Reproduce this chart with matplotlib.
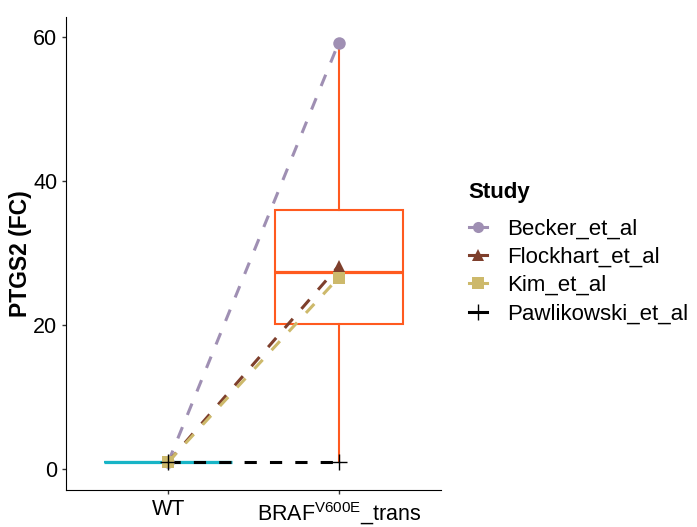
import numpy as np
import matplotlib
matplotlib.use('Agg')
from matplotlib import pyplot as plt
from matplotlib.lines import Line2D
from matplotlib import transforms

plt.rcParams['font.family'] = ['Liberation Sans', 'DejaVu Sans']
plt.rcParams['mathtext.fontset'] = 'custom'
plt.rcParams['mathtext.rm'] = 'Liberation Sans'
plt.rcParams['mathtext.it'] = 'Liberation Sans'

groups = ['WT', r'BRAF$^{\mathrm{V600E}}$_trans']
studies = ['Becker_et_al', 'Flockhart_et_al', 'Kim_et_al', 'Pawlikowski_et_al']
wt_values = [1.0, 1.0, 1.0, 1.0]
braf_values = [59.2, 28.2, 26.6, 1.0]
colors = ['#9F8FB3', '#7E3F2C', '#CDB96B', '#000000']
markers = ['o', '^', 's', '+']

fig = plt.figure(figsize=(6.97, 5.27), dpi=100)
ax = fig.add_axes([0.0947, 0.0702, 0.538, 0.898])

# boxplots
box_colors = ['#17B4C6', '#FF5A1F']
for i, vals in enumerate([wt_values, braf_values]):
    bp = ax.boxplot(vals, positions=[i + 1], widths=0.75, whis=1.5,
                    patch_artist=True, showfliers=False, manage_ticks=False)
    c = box_colors[i]
    for b in bp['boxes']:
        b.set(facecolor='white', edgecolor=c, linewidth=1.5)
    for l in bp['whiskers']:
        l.set(color=c, linewidth=1.5)
    for l in bp['caps']:
        l.set_visible(False)
    for l in bp['medians']:
        l.set(color=c, linewidth=2.3)

# per-study lines
dash = (0, (4, 4.3))
for s, w, b, c, m in zip(studies, wt_values, braf_values, colors, markers):
    ax.plot([1, 2], [w, b], color=c, linestyle=dash, linewidth=2.2,
            dash_capstyle='butt', zorder=3)
    ax.plot([1, 2], [w, b], color=c, linestyle='none', marker=m,
            markersize=9 if m != '+' else 12, markeredgewidth=0 if m != '+' else 1,
            zorder=4)

ax.set_xlim(0.4, 2.6)
ax.set_ylim(-2.9, 62.8)
ax.set_xticks([1, 2])
ax.set_xticklabels(groups, fontsize=15.5)
ax.set_yticks([0, 20, 40, 60])
ax.tick_params(axis='both', length=2.8, width=1, colors='#333333', labelcolor='black')
ax.tick_params(axis='y', labelsize=15.5)
ax.set_ylabel('PTGS2 (FC)', fontsize=16.5, fontweight='bold', labelpad=1)
for sp in ['top', 'right']:
    ax.spines[sp].set_visible(False)

# push the superscripted label down a bit
lab = ax.get_xticklabels()[1]
lab.set_transform(lab.get_transform() +
                  transforms.ScaledTranslation(0, -1.5 / 72, fig.dpi_scale_trans))

handles = [Line2D([], [], color=c, marker=m, linestyle='-', linewidth=2.2,
                  markersize=8 if m != '+' else 12, markeredgewidth=0 if m != '+' else 1)
           for c, m in zip(colors, markers)]
leg = fig.legend(handles, studies, title='Study', loc='upper left',
                 bbox_to_anchor=(0.65, 0.684), frameon=False, fontsize=16,
                 title_fontproperties={'weight': 'bold', 'size': 16},
                 handlelength=0.85, handletextpad=0.9, labelspacing=0.33,
                 borderpad=0.2)
leg._legend_box.align = 'left'
leg._legend_box.sep = 11

fig.savefig('out.png', dpi=100)
